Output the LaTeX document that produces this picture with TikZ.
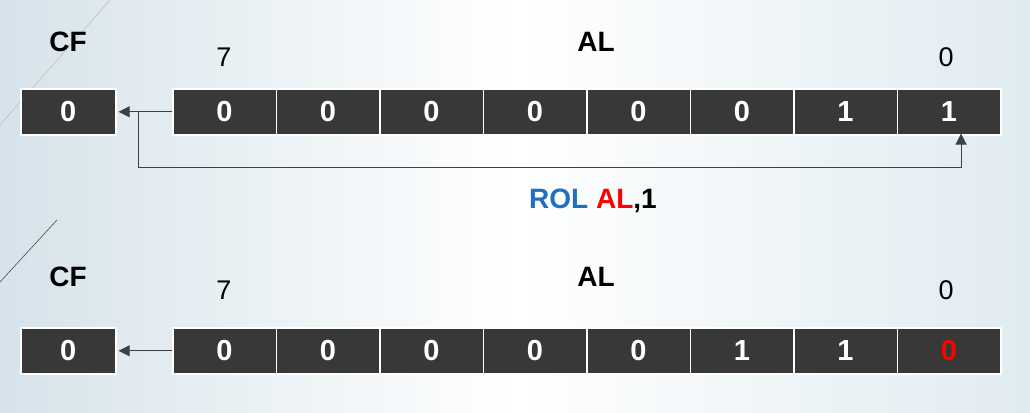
\documentclass[tikz,border=0pt]{standalone}
\usepackage{fontspec}
\setmainfont{Liberation Sans}
\usetikzlibrary{arrows.meta}

\definecolor{cellgray}{HTML}{383838}
\definecolor{linegray}{HTML}{404040}
\definecolor{rolblue}{HTML}{1F70C1}
\definecolor{bgleft}{HTML}{D6E3EA}
\definecolor{bgright}{HTML}{E0EBF0}

\tikzset{
  cell/.style={draw=white, line width=1.6pt, fill=cellgray, text=white,
    font=\bfseries\fontsize{29}{29}\selectfont,
    minimum width=103.5pt, minimum height=46pt, inner sep=0pt, anchor=north west},
  flagcell/.style={cell, minimum width=95pt},
  title/.style={font=\bfseries\fontsize{28}{28}\selectfont},
  bitno/.style={font=\fontsize{27}{27}\selectfont},
  conn/.style={draw=linegray, line width=1pt, -{Triangle[length=11pt,width=11pt]}}
}

\begin{document}
\begin{tikzpicture}[x=1pt,y=-1pt]
\useasboundingbox (0,0) rectangle (1030,412);
\shade[left color=bgleft, right color=bgright, middle color=white] (0,0) rectangle (1030,412);
% decorative strokes
\draw[black!25, line width=0.6pt] (0,125) -- (110,0);
\draw[black!70, line width=0.6pt] (0,282) -- (57,220);

% before the rotation
\node[title] (cfa) at (68,42) {CF};
\node[bitno] (hia) at (224,57) {7};
\node[title] (ala) at (596,42) {AL};
\node[bitno] (loa) at (946,57) {0};
\node[flagcell] (cfta) at (20,88) {0};
\foreach \v [count=\i] in {0,0,0,0,0,0,1,1}
  \node[cell] (a\i) at ({172+(\i-1)*103.5},88) {\v};
\draw[conn] (a1.west) -- ([xshift=2pt]cfta.east);
\coordinate (forka) at (138,111);
\coordinate (loopa) at (138,167);
\draw[conn] (forka) -- (loopa) -| ([xshift=12pt,yshift=2pt]a8.south);

\node[font=\bfseries\fontsize{28}{28}\selectfont] (rol) at (593,201)
  {\textcolor{rolblue}{ROL} \textcolor{red}{AL},1};

% after the rotation
\node[title] (cfb) at (68,277) {CF};
\node[bitno] (hib) at (224,290) {7};
\node[title] (alb) at (596,277) {AL};
\node[bitno] (lob) at (946,290) {0};
\node[flagcell] (cftb) at (20,327) {0};
\foreach \v [count=\i] in {0,0,0,0,0,1,1,\textcolor{red}{0}}
  \node[cell] (b\i) at ({172+(\i-1)*103.5},327) {\v};
\draw[conn] (b1.west) -- ([xshift=2pt]cftb.east);
\end{tikzpicture}
\end{document}
